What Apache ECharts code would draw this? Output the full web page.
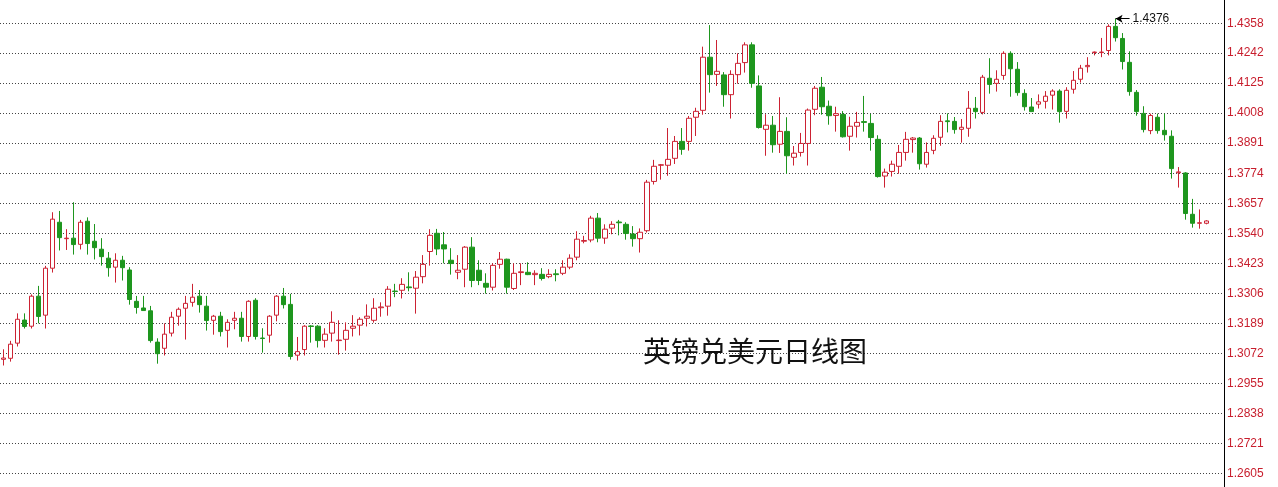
<!DOCTYPE html>
<html>
<head>
<meta charset="utf-8">
<script src="https://cdn.jsdelivr.net/npm/echarts@6/dist/echarts.min.js"></script>
<style>
html,body{margin:0;padding:0;background:#fff;}
#chart{width:1278px;height:487px;}
</style>
</head>
<body>
<div id="chart"></div>
<script>
const opens = [1.3049,1.3053,1.3112,1.3202,1.3178,1.3295,1.3221,1.3404,1.3583,1.3519,1.3521,1.3497,1.3587,1.3509,1.3478,1.3443,1.3408,1.3435,1.3397,1.3275,1.3249,1.3238,1.3116,1.3092,1.3151,1.3217,1.3248,1.3271,1.3295,1.3256,1.3201,1.3217,1.3162,1.3201,1.3209,1.3138,1.3279,1.3132,1.3143,1.3221,1.3295,1.3263,1.3065,1.3087,1.3179,1.3178,1.3123,1.3151,1.3122,1.3127,1.3170,1.3182,1.3209,1.3201,1.3250,1.3256,1.3315,1.3318,1.3331,1.3326,1.3371,1.3469,1.3540,1.3495,1.3435,1.3388,1.3400,1.3486,1.3396,1.3345,1.3330,1.3419,1.3439,1.3325,1.3387,1.3388,1.3379,1.3380,1.3371,1.3382,1.3384,1.3408,1.3447,1.3509,1.3514,1.3599,1.3521,1.3560,1.3584,1.3575,1.3537,1.3519,1.3550,1.3742,1.3805,1.3805,1.3832,1.3898,1.3898,1.3992,1.4019,1.4226,1.4159,1.4157,1.4080,1.4158,1.4205,1.4274,1.4114,1.3945,1.3961,1.3887,1.3937,1.3836,1.3855,1.3890,1.4023,1.4109,1.4035,1.3999,1.4003,1.3918,1.3957,1.3975,1.3968,1.3906,1.3763,1.3781,1.3801,1.3855,1.3905,1.3911,1.3809,1.3863,1.3914,1.3978,1.3976,1.3945,1.3949,1.4027,1.4011,1.4144,1.4124,1.4155,1.4241,1.4179,1.4085,1.4032,1.4043,1.4054,1.4078,1.4094,1.4015,1.4101,1.4140,1.4189,1.4244,1.4244,1.4252,1.4346,1.4299,1.4206,1.4089,1.4007,1.3940,1.3992,1.3941,1.3918,1.3776,1.3775,1.3614,1.3579,1.3579];
const closes = [1.3054,1.3108,1.3205,1.3177,1.3295,1.3216,1.3404,1.3595,1.3523,1.3521,1.3496,1.3583,1.3500,1.3484,1.3449,1.3406,1.3435,1.3406,1.3282,1.3251,1.3239,1.3122,1.3071,1.3147,1.3213,1.3244,1.3267,1.3291,1.3262,1.3200,1.3217,1.3157,1.3193,1.3209,1.3138,1.3275,1.3138,1.3130,1.3217,1.3295,1.3262,1.3060,1.3079,1.3178,1.3177,1.3122,1.3147,1.3193,1.3124,1.3162,1.3178,1.3205,1.3217,1.3248,1.3253,1.3322,1.3313,1.3341,1.3328,1.3369,1.3419,1.3532,1.3479,1.3479,1.3422,1.3396,1.3486,1.3356,1.3356,1.3330,1.3415,1.3439,1.3330,1.3384,1.3390,1.3379,1.3384,1.3364,1.3380,1.3379,1.3408,1.3443,1.3517,1.3512,1.3599,1.3521,1.3556,1.3575,1.3581,1.3539,1.3519,1.3544,1.3739,1.3801,1.3807,1.3828,1.3898,1.3867,1.3988,1.4015,1.4226,1.4158,1.4171,1.4080,1.4159,1.4202,1.4274,1.4124,1.3952,1.3961,1.3885,1.3937,1.3842,1.3852,1.3890,1.4020,1.4105,1.4033,1.3998,1.4006,1.3916,1.3957,1.3972,1.3972,1.3913,1.3761,1.3778,1.3809,1.3855,1.3906,1.3911,1.3811,1.3855,1.3910,1.3976,1.3975,1.3944,1.3953,1.4027,1.4014,1.4148,1.4120,1.4140,1.4241,1.4181,1.4088,1.4033,1.4014,1.4052,1.4074,1.4094,1.4014,1.4097,1.4136,1.4183,1.4194,1.4246,1.4246,1.4346,1.4302,1.4209,1.4092,1.4014,1.3944,1.3999,1.3940,1.3924,1.3792,1.3779,1.3617,1.3579,1.3581,1.3588];
const lows = [1.3025,1.3040,1.3099,1.3169,1.3169,1.3189,1.3169,1.3387,1.3473,1.3475,1.3457,1.3477,1.3457,1.3438,1.3414,1.3371,1.3348,1.3356,1.3262,1.3227,1.3239,1.3114,1.3032,1.3064,1.3138,1.3180,1.3126,1.3254,1.3231,1.3161,1.3145,1.3138,1.3095,1.3166,1.3118,1.3118,1.3126,1.3075,1.3114,1.3197,1.3247,1.3048,1.3044,1.3064,1.3114,1.3095,1.3095,1.3118,1.3067,1.3083,1.3138,1.3142,1.3177,1.3192,1.3215,1.3219,1.3291,1.3286,1.3314,1.3227,1.3345,1.3414,1.3455,1.3423,1.3379,1.3361,1.3330,1.3330,1.3338,1.3305,1.3317,1.3402,1.3305,1.3319,1.3338,1.3377,1.3338,1.3356,1.3365,1.3353,1.3377,1.3400,1.3435,1.3501,1.3505,1.3505,1.3499,1.3536,1.3532,1.3515,1.3488,1.3465,1.3543,1.3730,1.3749,1.3764,1.3810,1.3846,1.3862,1.3919,1.4002,1.4088,1.4114,1.4033,1.3987,1.4123,1.4166,1.4107,1.3948,1.3842,1.3854,1.3853,1.3772,1.3804,1.3839,1.3804,1.4000,1.4002,1.3963,1.3936,1.3913,1.3862,1.3913,1.3936,1.3862,1.3757,1.3718,1.3761,1.3772,1.3823,1.3854,1.3788,1.3796,1.3848,1.3881,1.3933,1.3928,1.3893,1.3916,1.3987,1.4003,1.4084,1.4092,1.4138,1.4072,1.4076,1.4018,1.4014,1.4026,1.4026,1.4022,1.3971,1.3987,1.4084,1.4127,1.4166,1.4233,1.4226,1.4233,1.4287,1.4178,1.4076,1.3998,1.3933,1.3926,1.3928,1.3901,1.3753,1.3718,1.3593,1.3562,1.3558,1.3575];
const highs = [1.3088,1.3121,1.3228,1.3228,1.3302,1.3335,1.3413,1.3622,1.3627,1.3556,1.3661,1.3592,1.3602,1.3576,1.3521,1.3467,1.3462,1.3452,1.3408,1.3296,1.3296,1.3257,1.3131,1.3189,1.3234,1.3251,1.3296,1.3343,1.3319,1.3296,1.3222,1.3234,1.3205,1.3234,1.3234,1.3279,1.3287,1.3170,1.3221,1.3299,1.3327,1.3304,1.3136,1.3182,1.3182,1.3182,1.3170,1.3236,1.3201,1.3193,1.3221,1.3213,1.3263,1.3287,1.3271,1.3334,1.3343,1.3365,1.3388,1.3393,1.3455,1.3556,1.3557,1.3545,1.3482,1.3455,1.3490,1.3525,1.3435,1.3384,1.3423,1.3467,1.3441,1.3423,1.3423,1.3427,1.3396,1.3404,1.3400,1.3400,1.3435,1.3458,1.3548,1.3530,1.3608,1.3619,1.3575,1.3587,1.3592,1.3583,1.3568,1.3559,1.3748,1.3826,1.3810,1.3950,1.3919,1.3950,1.3997,1.4029,1.4267,1.4351,1.4293,1.4168,1.4175,1.4241,1.4284,1.4284,1.4155,1.4004,1.3997,1.4070,1.3992,1.3880,1.3931,1.4026,1.4114,1.4149,1.4057,1.4033,1.4016,1.3994,1.4013,1.4075,1.4005,1.3922,1.3792,1.3823,1.3884,1.3935,1.3915,1.3915,1.3894,1.3922,1.4000,1.4007,1.3993,1.3985,1.4094,1.4071,1.4157,1.4222,1.4175,1.4249,1.4249,1.4207,1.4101,1.4067,1.4081,1.4094,1.4101,1.4101,1.4109,1.4172,1.4196,1.4226,1.4248,1.4301,1.4354,1.4376,1.4320,1.4249,1.4098,1.4035,1.4006,1.4006,1.4006,1.3941,1.3798,1.3778,1.3674,1.3633,1.3591];
const tickLabels = [1.4358,1.4242,1.4125,1.4008,1.3891,1.3774,1.3657,1.3540,1.3423,1.3306,1.3189,1.3072,1.2955,1.2838,1.2721,1.2605];
const titleText = '英镑兑美元日线图';
const peakIndex = 159;
const peakValue = 1.4376;
const slotCount = 175;

const categories = [];
for (let i = 0; i < slotCount; i++) categories.push(String(i));
const kdata = opens.map((o, i) => [o, closes[i], lows[i], highs[i]]);

const RED = '#cc2233';
const GREEN = '#1e961e';

const chart = echarts.init(document.getElementById('chart'), null, {renderer: 'canvas'});
chart.setOption({
  animation: false,
  backgroundColor: '#fff',
  title: {
    text: titleText,
    left: 638,
    top: 332,
    textStyle: {fontSize: 28, fontWeight: 'normal', color: '#111', fontFamily: 'Noto Sans CJK SC'}
  },
  grid: {left: 0, right: 54, top: 0, bottom: 0},
  xAxis: {
    type: 'category',
    data: categories,
    boundaryGap: true,
    axisLine: {show: false},
    axisTick: {show: false},
    axisLabel: {show: false},
    splitLine: {show: false}
  },
  yAxis: {
    type: 'value',
    position: 'right',
    min: 1.25516,
    max: 1.44488,
    axisLine: {show: true, lineStyle: {color: '#000', width: 1}},
    axisTick: {show: false, customValues: tickLabels},
    axisLabel: {
      show: true,
      customValues: tickLabels,
      margin: 3,
      color: '#c81e2d',
      fontSize: 12,
      fontFamily: 'Liberation Sans',
      formatter: v => v.toFixed(4)
    },
    splitLine: {show: true, lineStyle: {color: '#444', type: [1, 2], width: 1}}
  },
  series: [{
    type: 'candlestick',
    data: kdata,
    barWidth: 5,
    itemStyle: {
      color: '#fff',
      color0: GREEN,
      borderColor: RED,
      borderColor0: GREEN,
      borderWidth: 1
    },
    markLine: {
      silent: true,
      symbol: ['arrow', 'none'],
      symbolSize: [6, 7],
      lineStyle: {color: '#000', width: 1, type: 'solid'},
      label: {show: true, position: 'end', formatter: String(peakValue), color: '#111', fontSize: 12, fontFamily: 'Liberation Sans', distance: 3},
      data: [[{coord: [String(peakIndex), peakValue]}, {coord: [String(peakIndex + 2), peakValue]}]]
    }
  }]
});
</script>
</body>
</html>
